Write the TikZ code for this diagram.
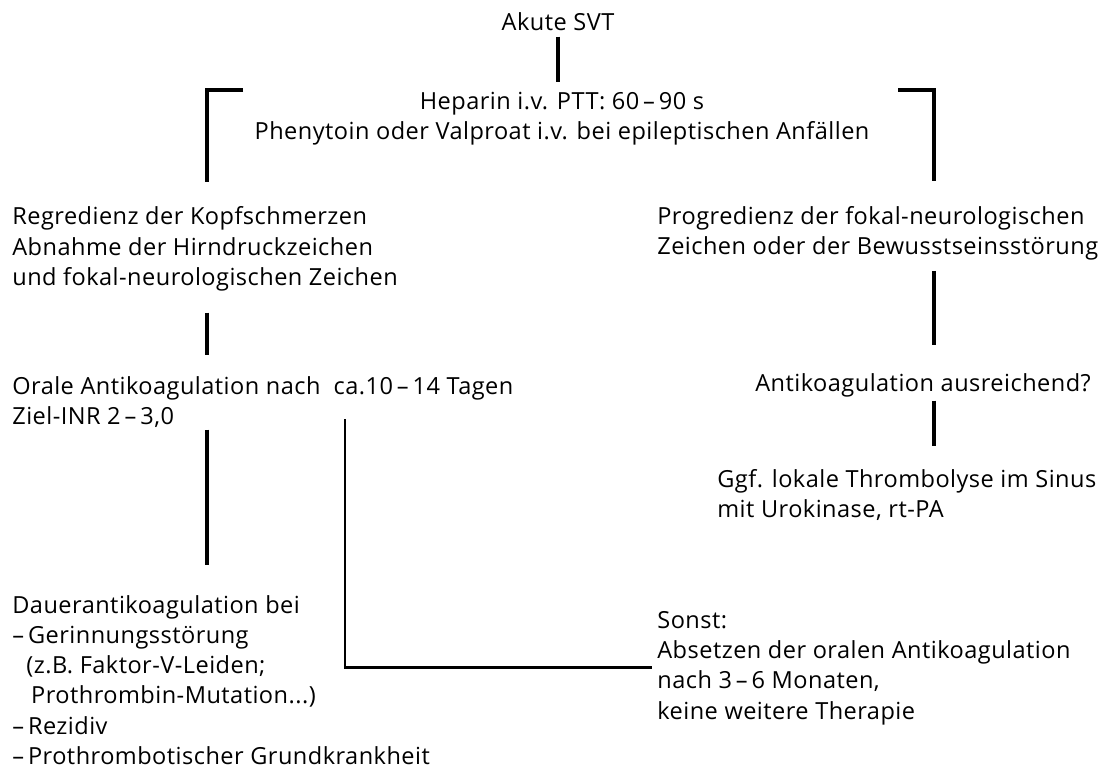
\documentclass[tikz,border=0pt]{standalone}
\usepackage{fontspec}
\setmainfont{Open Sans}[LetterSpace=2]
\tikzset{
  txt/.style={inner sep=0pt, align=left, font=\fontsize{13.4}{17.2}\selectfont},
  link/.style={line width=2.3pt},
  slimlink/.style={line width=1.7pt}
}
\begin{document}
\begin{tikzpicture}[x=0.02cm, y=-0.02cm]
        \useasboundingbox (0,0) rectangle (1111,769);

        % Columns of the branches
        \coordinate (colL) at (207,0);
        \coordinate (colM) at (345,0);
        \coordinate (colR) at (934,0);
        % Bracket ends
        \coordinate (brL) at (243,90);
        \coordinate (brR) at (898,90);

        \node[txt] (svt) at (558,22) {Akute SVT};
        \node[txt, align=center] (hep) at (562,119) {Heparin i.v. PTT: 60\,--\,90 s\\Phenytoin oder Valproat i.v. bei epileptischen Anfällen};

        \node[txt, anchor=west] (regr) at (12,249) {Regredienz der Kopfschmerzen\\Abnahme der Hirndruckzeichen\\und fokal-neurologischen Zeichen};
        \node[txt, anchor=west] (progr) at (657,233) {Progredienz\ der fokal-neurologischen\\Zeichen oder der Bewusstseinsstörung};

        \node[txt, anchor=west] (orale) at (12,402) {Orale Antikoagulation nach\ \ ca.10\,--\,14 Tagen\\Ziel-INR 2\,--\,3,0};
        \node[txt, anchor=west] (ausr) at (755,385) {Antikoagulation ausreichend?};
        \node[txt, anchor=west] (ggf) at (717,495) {Ggf. lokale Thrombolyse im Sinus\\mit Urokinase, rt-PA};

        \node[txt, anchor=west] (dauer) at (12,680) {Dauerantikoagulation bei\\--\,Gerinnungsstörung\\\hspace{0.6em}(z.B. Faktor-V-Leiden;\\\hspace{0.8em}Prothrombin-Mutation...)\\--\,Rezidiv\\--\,Prothrombotischer Grundkrankheit};
        \node[txt, anchor=west] (sonst) at (657,668) {Sonst:\\Absetzen der oralen Antikoagulation\\nach 3\,--\,6 Monaten,\\keine weitere Therapie};

        % Connectors
        \draw[link] ([yshift=-3pt]svt.south) -- ([yshift=6pt]svt.south |- hep.north);
        \draw[link] (brL) -| ([yshift=14pt]colL |- regr.north);
        \draw[link] (brR) -| ([yshift=14pt]colR |- progr.north);

        \draw[link] ([yshift=-12pt]colL |- regr.south) -- ([yshift=12pt]colL |- orale.north);
        \draw[link] ([yshift=-6pt]colR |- progr.south) -- ([yshift=16pt]colR |- ausr.north);
        \draw[link] ([yshift=-2pt]colR |- ausr.south) -- ([yshift=13pt]colR |- ggf.north);

        \draw[link] ([yshift=-1pt]colL |- orale.south) -- ([yshift=17pt]colL |- dauer.north);
        \draw[slimlink] ([yshift=5pt]colM |- orale.south) |- ([xshift=-3pt]sonst.west |- 0,667);
\end{tikzpicture}
\end{document}
